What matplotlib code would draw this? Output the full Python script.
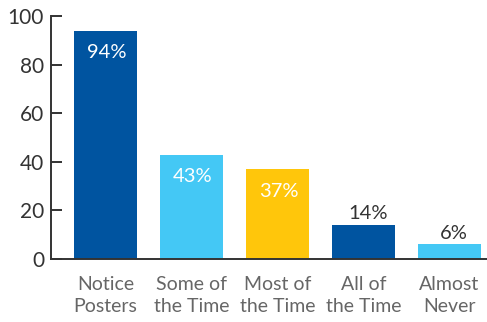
import matplotlib.pyplot as plt

# survey responses (percent)
categories = ["Notice\nPosters", "Some of\nthe Time", "Most of\nthe Time", "All of\nthe Time", "Almost\nNever"]
values = [94, 43, 37, 14, 6]
bar_colors = ["#0054A0", "#44C8F5", "#FFC60B", "#0054A0", "#44C8F5"]
label_inside = [True, True, True, False, False]

plt.rcParams["font.family"] = ["Lato", "DejaVu Sans"]

fig = plt.figure(figsize=(4.87, 3.22), dpi=100)
ax = fig.add_axes([51 / 487, 63 / 322, 436 / 487, 243 / 322])

x = list(range(len(values)))
bars = ax.bar(x, values, width=0.73, color=bar_colors)

for rect, val, inside in zip(bars, values, label_inside):
    cx = rect.get_x() + rect.get_width() / 2
    if inside:
        ax.annotate(f"{val}%", (cx, val), xytext=(1, -16), textcoords="offset points",
                    ha="center", va="center", color="white", fontsize=14.5)
    else:
        ax.annotate(f"{val}%", (cx, val), xytext=(3, 8), textcoords="offset points",
                    ha="center", va="center", color="#333333", fontsize=14.5)

ax.set_xlim(-0.634, 4.436)
ax.set_ylim(0, 100)
ax.set_yticks([0, 20, 40, 60, 80, 100])
ax.set_xticks(x)
ax.set_xticklabels(categories, color="#666666", fontsize=14, linespacing=1.4)

for side in ["top", "right"]:
    ax.spines[side].set_visible(False)
ax.spines["left"].set_color("#333333")
ax.spines["bottom"].set_color("#333333")
ax.spines["left"].set_linewidth(1.4)
ax.spines["bottom"].set_linewidth(1.4)

ax.tick_params(axis="y", direction="in", length=8, width=1.4, color="#333333",
               labelsize=15, labelcolor="#333333", pad=5)
ax.tick_params(axis="x", length=0, pad=12)

fig.savefig("out.png", dpi=100)
